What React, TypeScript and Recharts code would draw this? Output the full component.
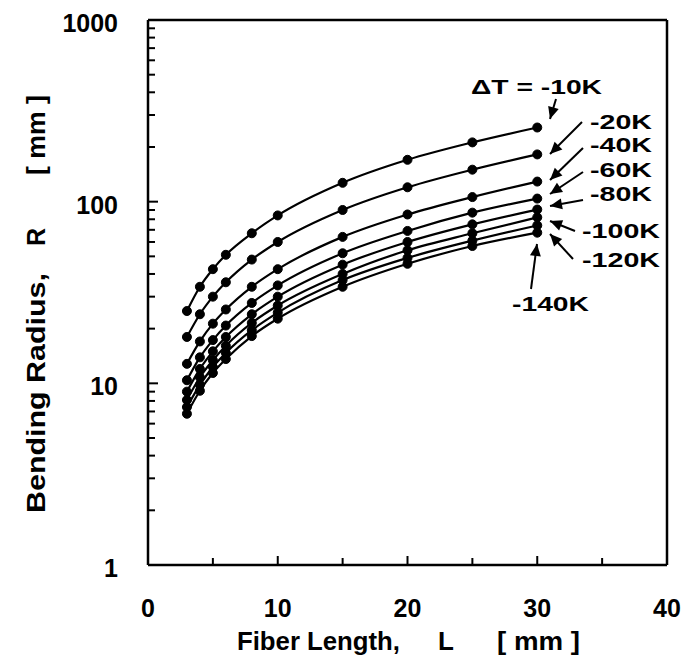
import { LineChart, Line, XAxis, YAxis, ReferenceLine } from "recharts";

const LENGTHS = [3, 4, 5, 6, 8, 10, 15, 20, 25, 30];

const DT10 = [25, 34, 42.5, 51, 67, 84, 127, 170, 212, 256];
const DT20 = [18, 24, 30, 36, 48, 60, 90, 120, 150, 182];
const DT40 = [12.8, 17, 21.3, 25.5, 34, 42.5, 64, 85, 106, 129];
const DT60 = [10.4, 13.9, 17.3, 20.8, 27.7, 34.6, 52, 69, 87, 104];
const DT80 = [9.0, 12.0, 15.0, 18.0, 24, 30, 45, 60, 75, 90.5];
const DT100 = [8.1, 10.8, 13.4, 16.1, 21.5, 26.8, 40, 54, 67, 82];
const DT120 = [7.4, 9.8, 12.3, 14.7, 19.6, 24.5, 37, 49, 61, 74];
const DT140 = [6.8, 9.1, 11.4, 13.6, 18.2, 22.7, 34, 45.5, 57, 67.5];

const SERIES = [
  { key: "dt10", values: DT10 },
  { key: "dt20", values: DT20 },
  { key: "dt40", values: DT40 },
  { key: "dt60", values: DT60 },
  { key: "dt80", values: DT80 },
  { key: "dt100", values: DT100 },
  { key: "dt120", values: DT120 },
  { key: "dt140", values: DT140 },
];

const X_TICKS = [0, 5, 10, 15, 20, 25, 30, 35, 40];
const X_LABELS = [0, 10, 20, 30, 40];
const Y_MAJOR = [1, 10, 100, 1000];
const Y_TICKS = [
  1, 2, 3, 4, 5, 6, 7, 8, 9,
  10, 20, 30, 40, 50, 60, 70, 80, 90,
  100, 200, 300, 400, 500, 600, 700, 800, 900,
  1000,
];

const data = LENGTHS.map((L, i) => {
  const row: Record<string, number> = { L };
  SERIES.forEach((s) => {
    row[s.key] = s.values[i];
  });
  return row;
});

const FONT = '"Liberation Sans", Arial, Helvetica, sans-serif';

// annotation labels and their arrows (page coordinates)
const NOTES = [
  { text: "\u0394T = -10K", tx: 471, ty: 94, w: 131, from: [556, 99], to: [550, 119] },
  { text: "-20K", tx: 590, ty: 129, w: 62, from: [582, 122], to: [550, 154] },
  { text: "-40K", tx: 590, ty: 152, w: 62, from: [583, 148], to: [550, 180] },
  { text: "-60K", tx: 590, ty: 177, w: 62, from: [583, 172], to: [550, 194] },
  { text: "-80K", tx: 590, ty: 201, w: 62, from: [583, 200], to: [550, 206] },
  { text: "-100K", tx: 582, ty: 238, w: 78, from: [575, 231], to: [550, 221] },
  { text: "-120K", tx: 582, ty: 267, w: 78, from: [573, 259], to: [550, 234] },
  { text: "-140K", tx: 512, ty: 311, w: 77, from: [531, 289], to: [537, 244] },
];

function XTick(props: any) {
  const { x, y, payload } = props;
  const v = payload.value;
  const major = X_LABELS.includes(v);
  return (
    <g>
      {v > 0 && v < 40 && (
        <line x1={x} y1={y} x2={x} y2={y - (major ? 9 : 7)} stroke="#000" strokeWidth={2} />
      )}
      {major && (
        <text x={x} y={y + 52} textAnchor="middle" fontFamily={FONT} fontWeight="bold" fontSize={25} fill="#000">
          {v}
        </text>
      )}
    </g>
  );
}

function YTick(props: any) {
  const { x, y, payload } = props;
  const v = payload.value;
  const major = Y_MAJOR.includes(v);
  return (
    <g>
      {v > 1 && v < 1000 && (
        <line x1={x} y1={y} x2={x + (major ? 10 : 7)} y2={y} stroke="#000" strokeWidth={2} />
      )}
      {major && (
        <text x={x - 30} y={y + 12} textAnchor="end" fontFamily={FONT} fontWeight="bold" fontSize={25} fill="#000">
          {v}
        </text>
      )}
    </g>
  );
}

function arrowHead(from: number[], to: number[]) {
  const dx = to[0] - from[0];
  const dy = to[1] - from[1];
  const len = Math.sqrt(dx * dx + dy * dy);
  const ux = dx / len;
  const uy = dy / len;
  const hl = 12;
  const hw = 5.5;
  const bx = to[0] - ux * hl;
  const by = to[1] - uy * hl;
  return `${to[0]},${to[1]} ${bx - uy * hw},${by + ux * hw} ${bx + uy * hw},${by - ux * hw}`;
}

export default function App() {
  return (
    <div style={{ position: "absolute", left: 0, top: 0, width: 687, height: 665, background: "#fff" }}>
      <LineChart
        width={687}
        height={665}
        data={data}
        margin={{ top: 20, right: 20, bottom: 0, left: 0 }}
      >
        <XAxis
          dataKey="L"
          type="number"
          domain={[0, 40]}
          ticks={X_TICKS}
          interval={0}
          height={100}
          tickSize={0}
          tickMargin={0}
          tickLine={false}
          axisLine={{ stroke: "#000", strokeWidth: 2.5 }}
          tick={<XTick />}
        />
        <YAxis
          type="number"
          scale="log"
          domain={[1, 1000]}
          ticks={Y_TICKS}
          interval={0}
          width={148}
          tickSize={0}
          tickMargin={0}
          tickLine={false}
          allowDataOverflow
          axisLine={{ stroke: "#000", strokeWidth: 2.5 }}
          tick={<YTick />}
        />
        <ReferenceLine y={1000} stroke="#000" strokeWidth={2.5} />
        <ReferenceLine x={40} stroke="#000" strokeWidth={2.5} />
        {SERIES.map((s) => (
          <Line
            key={s.key}
            dataKey={s.key}
            type="monotone"
            stroke="#000"
            strokeWidth={2.2}
            dot={{ r: 4.5, fill: "#000", stroke: "#000", strokeWidth: 1 }}
            activeDot={false}
            isAnimationActive={false}
          />
        ))}
      </LineChart>
      <svg
        width={687}
        height={665}
        style={{ position: "absolute", left: 0, top: 0, pointerEvents: "none" }}
        fontFamily={FONT}
        fontWeight="bold"
      >
        <text x={237} y={650} fontSize={26} fill="#000" textLength={163} lengthAdjust="spacingAndGlyphs">
          Fiber Length,
        </text>
        <text x={438} y={650} fontSize={26} fill="#000">L</text>
        <text x={497} y={650} fontSize={26} fill="#000" textLength={83} lengthAdjust="spacingAndGlyphs">
          [ mm ]
        </text>
        <text transform="translate(45,513) rotate(-90)" fontSize={25} fill="#000" textLength={240} lengthAdjust="spacingAndGlyphs">
          Bending Radius,
        </text>
        <text transform="translate(45,246) rotate(-90)" fontSize={25} fill="#000">R</text>
        <text transform="translate(45,175) rotate(-90)" fontSize={25} fill="#000" textLength={80} lengthAdjust="spacingAndGlyphs">
          [ mm ]
        </text>
        {NOTES.map((n) => (
          <g key={n.text}>
            <text x={n.tx} y={n.ty} fontSize={21} fill="#000" textLength={n.w} lengthAdjust="spacingAndGlyphs">
              {n.text}
            </text>
            <line x1={n.from[0]} y1={n.from[1]} x2={n.to[0]} y2={n.to[1]} stroke="#000" strokeWidth={2} />
            <polygon points={arrowHead(n.from, n.to)} fill="#000" />
          </g>
        ))}
      </svg>
    </div>
  );
}
